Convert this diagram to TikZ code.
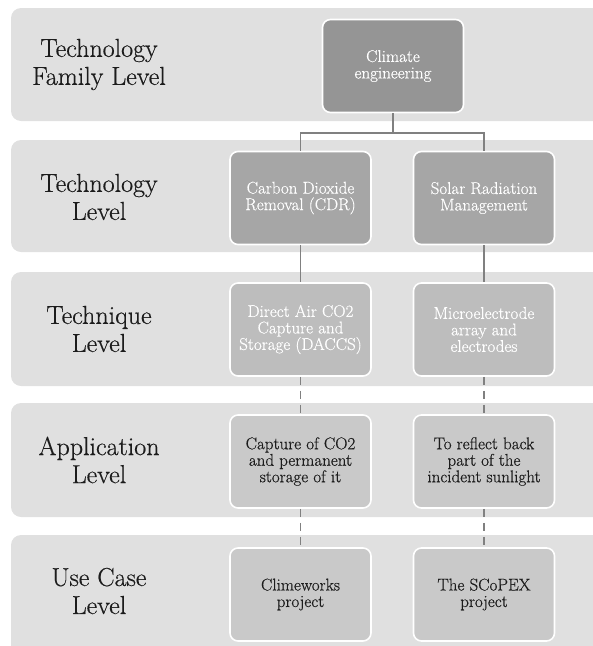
\documentclass[tikz,border=0pt]{standalone}
\usepackage{fontspec}
\newfontfamily\labelserif{Latin Modern Roman}[FakeBold=0.5]
\definecolor{bandgray}{HTML}{E0E0E0}
\definecolor{lineg}{HTML}{808080}
\definecolor{fillA}{HTML}{959595}
\definecolor{fillB}{HTML}{A6A6A6}
\definecolor{fillC}{HTML}{BDBDBD}
\definecolor{fillD}{HTML}{C9C9C9}
\definecolor{inkdark}{HTML}{1C1C1C}
\begin{document}
\begin{tikzpicture}[x=1pt,y=-1pt,
  band/.style={fill=bandgray,rounded corners=10pt},
  levellabel/.style={align=center,text=inkdark,font=\labelserif\fontsize{26}{28}\selectfont},
  card/.style={draw=white,line width=1.6pt,rounded corners=8pt,
    minimum width=141pt,minimum height=93pt,inner sep=0pt,align=center,
    font=\labelserif\fontsize{17}{16.5}\selectfont},
  cardA/.style={card,fill=fillA,text=white},
  cardB/.style={card,fill=fillB,text=white},
  cardC/.style={card,fill=fillC,text=white},
  cardD/.style={card,fill=fillD,text=inkdark},
  link/.style={draw=lineg,line width=1.6pt},
  dashlink/.style={link,dash pattern=on 8pt off 6pt}]
\useasboundingbox (0,0) rectangle (593,646);
\clip (0,0) rectangle (593,646);

% level bands
\fill[band] (11,8)   rectangle (640,121);
\fill[band] (11,140) rectangle (640,252);
\fill[band] (11,272) rectangle (640,386);
\fill[band] (11,403) rectangle (640,517);
\fill[band] (11,535) rectangle (640,660);

% level names
\node[levellabel] (l1) at (99,64.5) {Technology\\Family Level};
\node[levellabel] (l2) at (99,197)  {Technology\\Level};
\node[levellabel] (l3) at (99,329)  {Technique\\Level};
\node[levellabel] (l4) at (99,460)  {Application\\Level};
\node[levellabel] (l5) at (99,591)  {Use Case\\Level};

% hierarchy
\node[cardA] (ce)  at (393,66)    {Climate\\engineering};
\node[cardB] (cdr) at (300.5,198) {Carbon Dioxide\\Removal (CDR)};
\node[cardB] (srm) at (484,198)   {Solar Radiation\\Management};
\node[cardC] (dac) at (300.5,329.5) {Direct Air CO2\\Capture and\\Storage (DACCS)};
\node[cardC] (mea) at (484,329.5) {Microelectrode\\array and\\electrodes};
\node[cardD] (cap) at (300.5,461.5) {Capture of CO2\\and permanent\\storage of it};
\node[cardD] (ref) at (484,461.5) {To reflect back\\part of the\\incident sunlight};
\node[cardD] (clw) at (300.5,594.5) {Climeworks\\project};
\node[cardD] (scp) at (484,594.5) {The SCoPEX\\project};

% connectors
\coordinate (fork) at (393,133);
\draw[link] (ce.south) -- (fork);
\draw[link] (fork) -| (cdr.north);
\draw[link] (fork) -| (srm.north);
\draw[link] (cdr.south) -- (dac.north);
\draw[link] (srm.south) -- (mea.north);
\draw[dashlink] (dac.south) -- (cap.north);
\draw[dashlink] (mea.south) -- (ref.north);
\draw[dashlink] (cap.south) -- (clw.north);
\draw[dashlink] (ref.south) -- (scp.north);
\end{tikzpicture}
\end{document}
